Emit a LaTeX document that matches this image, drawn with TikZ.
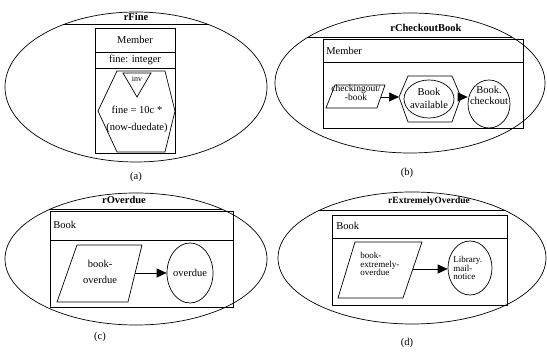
\documentclass[tikz,border=0pt]{standalone}
\usepackage{fontspec}
\setmainfont{Liberation Serif}
\usetikzlibrary{shapes.geometric,arrows.meta}
\begin{document}
\begin{tikzpicture}[x=1pt,y=-1pt, line width=0.7pt,
  lbl/.style={font=\fontsize{10.5}{11}\selectfont, inner sep=0},
  sml/.style={font=\fontsize{9}{8.8}\selectfont, inner sep=0, align=left},
  ttl/.style={font=\fontsize{10.5}{11}\selectfont\bfseries, inner sep=0},
  arr/.style={-{Triangle[length=10pt,width=9pt]}},
  ov/.style={draw, ellipse, inner sep=0},
]
\useasboundingbox (0,0) rectangle (547,352);

% ---------------- (a) rFine ----------------
\node[ov, minimum width=262pt, minimum height=150pt] (ea) at (136,87) {};
\begin{scope}
  \clip (136,87) ellipse [x radius=131pt, y radius=75pt];
  \draw (0,24) -- (300,24);
\end{scope}
\node[ttl] (ta) at (136,17) {rFine};
\draw (95,28) rectangle (175,153);
\draw (95,52) -- (175,52);
\draw (95,68) -- (175,68);
\node[lbl] (ma) at (135,40) {Member};
\node[lbl] (fa) at (135,60) {fine: integer};
\draw (117,71) -- (165,71) -- (175,111) -- (165,152) -- (117,152) -- (98,111) -- cycle;
\draw (123,73) -- (151,73) -- (137,97) -- cycle;
\node[font=\fontsize{8}{9}\selectfont, inner sep=0] (inv) at (137,79) {inv};
\node[lbl] (fe1) at (137,110) {fine = 10c *};
\node[lbl] (fe2) at (137,128) {(now-duedate)};
\node[lbl] (la) at (136,177) {(a)};

% ---------------- (b) rCheckoutBook ----------------
\node[ov, minimum width=270pt, minimum height=140pt] (eb) at (410,83) {};
\begin{scope}
  \clip (410,83) ellipse [x radius=135pt, y radius=70pt];
  \draw (270,37) -- (547,37);
\end{scope}
\node[ttl] (tb) at (426,28) {rCheckoutBook};
\draw (323,39) rectangle (523,128);
\draw (323,62) -- (523,62);
\node[lbl, anchor=west] (mb) at (326,51) {Member};
\draw (335,85) -- (385,85) -- (377,108) -- (326,108) -- cycle;
\node[font=\fontsize{9.5}{9.5}\selectfont, inner sep=0, align=center] (cb) at (356,93) {checkingout/\\-book};
\coordinate (pb) at (381,97);
\draw (399,97) -- (408,76) -- (452,76) -- (461,97) -- (452,122) -- (408,122) -- cycle;
\coordinate (hl) at (399,97);
\coordinate (hr) at (461,97);
\node[ov, minimum width=50pt, minimum height=38pt] (ba) at (429,99) {};
\node[lbl, align=center] (bat) at (429,98) {Book\\[2pt]available};
\node[ov, minimum width=42pt, minimum height=48pt] (bc) at (489,104) {};
\node[lbl, align=center] (bct) at (489,95) {Book.\\checkout};
\draw[arr] (pb) -- (hl);
\draw[arr] (hr) -- (hr -| bc.west);
\node[lbl] (lb) at (407,173) {(b)};

% ---------------- (c) rOverdue ----------------
\node[ov, minimum width=262pt, minimum height=132pt] (ec) at (136,259) {};
\begin{scope}
  \clip (136,259) ellipse [x radius=131pt, y radius=66pt];
  \draw (0,209) -- (300,209);
\end{scope}
\node[ttl] (tc) at (124,200) {rOverdue};
\draw (50,211) rectangle (233,307);
\draw (50,240) -- (233,240);
\node[lbl, anchor=west] (mc) at (53,225) {Book};
\draw (77,245) -- (142,245) -- (128,302) -- (57,302) -- cycle;
\node[lbl, align=center] (bo) at (100,272) {book-\\[5pt]overdue};
\coordinate (pc) at (135,273);
\node[ov, minimum width=46pt, minimum height=60pt] (oc) at (190,273) {};
\node[lbl] (oct) at (190,273) {overdue};
\draw[arr] (pc) -- (oc.west);
\node[lbl] (lc) at (100,337) {(c)};

% ---------------- (d) rExtremelyOverdue ----------------
\node[ov, minimum width=268pt, minimum height=132pt] (ed) at (412,258) {};
\begin{scope}
  \clip (412,258) ellipse [x radius=134pt, y radius=66pt];
  \draw (270,210) -- (547,210);
\end{scope}
\node[ttl, font=\fontsize{9.5}{10}\selectfont\bfseries] (td) at (429,201) {rExtremelyOverdue};
\draw (332,215) rectangle (507,305);
\draw (332,238) -- (507,238);
\node[lbl, anchor=west] (md) at (336,226) {Book};
\draw (355,242) -- (422,242) -- (403,298) -- (338,298) -- cycle;
\node[sml, anchor=west] (beo) at (360,264) {book-\\extremely-\\overdue};
\coordinate (pd) at (413,269);
\node[ov, minimum width=44pt, minimum height=54pt] (lm) at (470,268) {};
\node[sml, anchor=west] (lmt) at (453,268) {Library.\\mail-\\notice};
\draw[arr] (pd) -- (pd -| lm.west);
\node[lbl] (ld) at (407,343) {(d)};
\end{tikzpicture}
\end{document}
